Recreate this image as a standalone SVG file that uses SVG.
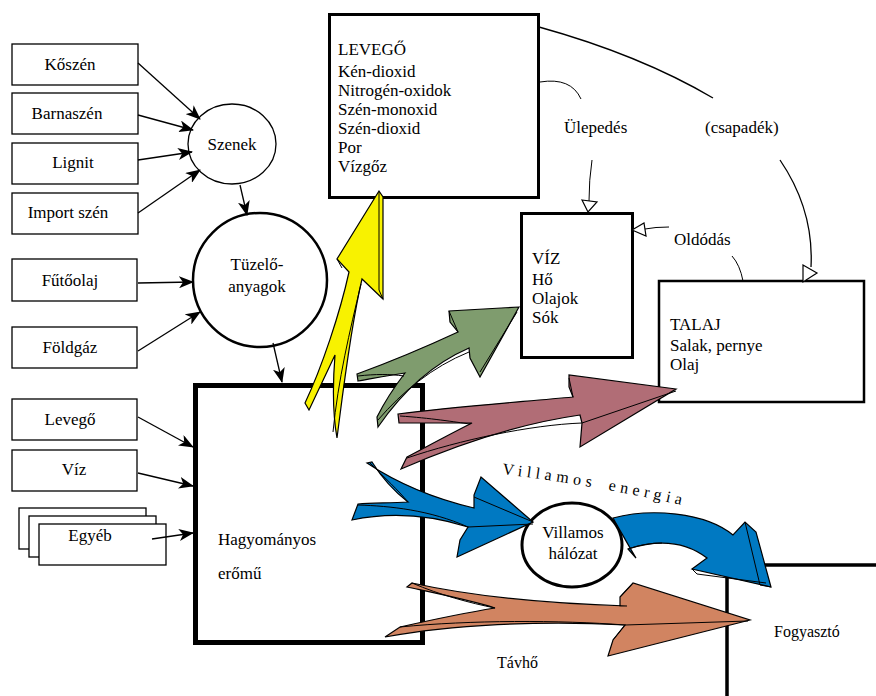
<svg xmlns="http://www.w3.org/2000/svg" width="876" height="696" viewBox="0 0 876 696" font-family="'Liberation Serif', 'Times New Roman', serif">
<style>
.box{fill:#fff;stroke:#000;stroke-width:1.3}
.t{font-family:'Liberation Serif','Times New Roman',serif;font-size:17px;fill:#000}
.c{text-anchor:middle}
.ln{fill:none;stroke:#000;stroke-width:1.3}
.fl{stroke:#000;stroke-width:1.2;stroke-linejoin:miter}
.in{fill:none;stroke:#000;stroke-width:1}
.open{fill:#fff;stroke:#000;stroke-width:1.2}
</style>
<defs>
<marker id="ah" markerUnits="userSpaceOnUse" markerWidth="16" markerHeight="12" refX="14" refY="6" orient="auto">
<path d="M0,0 L15,6 L0,12 L4,6 Z" fill="#000"/>
</marker>
</defs>
<rect width="876" height="696" fill="#fff"/>

<g id="koszen"><rect class="box" x="12" y="44" width="126" height="41"/><text class="t c" x="70" y="70">Kőszén</text></g>
<g id="barnaszen"><rect class="box" x="12" y="93" width="126" height="41"/><text class="t c" x="67" y="119">Barnaszén</text></g>
<g id="lignit"><rect class="box" x="12" y="143" width="126" height="41"/><text class="t c" x="73" y="168">Lignit</text></g>
<g id="import"><rect class="box" x="12" y="193" width="126" height="41"/><text class="t c" x="68" y="218">Import szén</text></g>
<g id="futoolaj"><rect class="box" x="12" y="259" width="125" height="42"/><text class="t c" x="70" y="286">Fűtőolaj</text></g>
<g id="foldgaz"><rect class="box" x="12" y="327" width="125" height="41"/><text class="t c" x="70" y="353">Földgáz</text></g>
<g id="levego-in"><rect class="box" x="12" y="399" width="125" height="41"/><text class="t c" x="70" y="425">Levegő</text></g>
<g id="viz-in"><rect class="box" x="12" y="450" width="125" height="41"/><text class="t c" x="74" y="475">Víz</text></g>
<g id="egyeb"><rect class="box" x="19" y="508" width="127" height="41"/><rect class="box" x="29" y="516" width="127" height="41"/><rect class="box" x="39" y="524" width="127" height="41"/><text class="t c" x="90" y="541">Egyéb</text></g>

<g id="szenek"><ellipse cx="232" cy="144" rx="44" ry="40" fill="#fff" stroke="#000" stroke-width="1.3"/><text class="t c" x="232" y="150">Szenek</text></g>
<g id="tuzeloanyagok"><circle cx="260" cy="280" r="67" fill="#fff" stroke="#000" stroke-width="2.5"/><text class="t c" x="257" y="270">Tüzelő-</text><text class="t c" x="257" y="292">anyagok</text></g>

<g id="eromu"><rect x="195.5" y="385.5" width="227" height="257" fill="#fff" stroke="#000" stroke-width="5"/><text class="t" x="218" y="545">Hagyományos</text><text class="t" x="218" y="579">erőmű</text></g>

<g id="levego"><rect x="329.5" y="14.5" width="209" height="183" fill="#fff" stroke="#000" stroke-width="3"/>
<text class="t" x="338" y="55">LEVEGŐ</text><text class="t" x="338" y="77">Kén-dioxid</text><text class="t" x="338" y="96">Nitrogén-oxidok</text><text class="t" x="338" y="115">Szén-monoxid</text><text class="t" x="338" y="134">Szén-dioxid</text><text class="t" x="338" y="153">Por</text><text class="t" x="338" y="172">Vízgőz</text></g>

<g id="viz"><rect x="521.5" y="213.5" width="111" height="144" fill="#fff" stroke="#000" stroke-width="3"/>
<text class="t" x="532" y="264">VÍZ</text><text class="t" x="532" y="285">Hő</text><text class="t" x="532" y="304">Olajok</text><text class="t" x="532" y="323">Sók</text></g>

<g id="talaj"><rect x="659" y="281" width="205" height="121" fill="#fff" stroke="#000" stroke-width="2.5"/>
<text class="t" x="670" y="330">TALAJ</text><text class="t" x="670" y="351">Salak, pernye</text><text class="t" x="670" y="370">Olaj</text></g>

<g id="fogyaszto"><rect x="727" y="565" width="220" height="200" fill="#fff" stroke="#000" stroke-width="3.5"/><text class="t" x="774" y="637" style="font-size:16px">Fogyasztó</text></g>

<g id="halozat"><ellipse cx="572" cy="545" rx="50" ry="42" fill="#fff" stroke="#000" stroke-width="3"/><text class="t c" x="573" y="538">Villamos</text><text class="t c" x="573" y="559">hálózat</text></g>

<g id="labels">
<text class="t" x="564" y="133">Ülepedés</text>
<text class="t" x="705" y="133">(csapadék)</text>
<text class="t" x="674" y="245">Oldódás</text>
<text class="t" x="497" y="668" style="font-size:16px">Távhő</text>
<path id="vepath" d="M 502,474 Q 600,486 690,507" fill="none"/>
<text class="t" style="font-size:16px" letter-spacing="4.6" word-spacing="4"><textPath href="#vepath">Villamos energia</textPath></text>
</g>

<g id="connectors">
<line class="ln" x1="138" y1="63" x2="200" y2="119" marker-end="url(#ah)"/>
<line class="ln" x1="138" y1="115" x2="193" y2="130" marker-end="url(#ah)"/>
<line class="ln" x1="138" y1="160" x2="192" y2="152" marker-end="url(#ah)"/>
<line class="ln" x1="138" y1="213" x2="200" y2="170" marker-end="url(#ah)"/>
<line class="ln" x1="240" y1="185" x2="247" y2="215" marker-end="url(#ah)"/>
<line class="ln" x1="138" y1="283" x2="193" y2="282" marker-end="url(#ah)"/>
<line class="ln" x1="138" y1="351" x2="200" y2="312" marker-end="url(#ah)"/>
<line class="ln" x1="273" y1="343" x2="282" y2="382" marker-end="url(#ah)"/>
<line class="ln" x1="138" y1="417" x2="193" y2="447" marker-end="url(#ah)"/>
<line class="ln" x1="138" y1="473" x2="193" y2="486" marker-end="url(#ah)"/>
<line class="ln" x1="152" y1="539" x2="193" y2="533" marker-end="url(#ah)"/>

<path class="ln" d="M 539,27 Q 640,55 713,98"/>
<path class="ln" d="M 780,160 Q 814,210 811,267"/>
<polygon class="open" points="803,265 817,273 803,282"/>
<path class="in" d="M 540,82 Q 571,77 581,99"/>
<path class="in" d="M 592,160 Q 589,180 589,201"/>
<polygon class="open" points="582,200 597,202 588,212"/>
<path class="in" d="M 669,227 Q 655,227 645,229"/>
<polygon class="open" points="632,230 644,223 646,236"/>
<path class="in" d="M 732,256 Q 740,265 743,281"/>

<g id="flows">
<path class="fl" fill="#F8F200" d="M 379,191 L 337,259 L 349,272 C 340,313 322,367 305,403 L 309,410 L 335,355 C 333,380 332,410 337,438 C 342,400 350,330 362,279 L 383,299 L 383,197 Z"/>
<path class="in" d="M 379,192 L 379,290 L 383,299 M 337,259 L 342,268 M 361,284 C 350,330 338,380 333,432"/>

<path class="fl" fill="#7F9C6E" d="M 519,307 L 449,311 L 450,322 L 458,332 C 430,345 390,362 357,374 L 358,381 C 375,378 390,375 405,373 C 392,390 383,405 377,417 L 378,427 C 400,395 430,365 469,348 L 470,358 L 480,377 Z"/>
<path class="in" d="M 449,311 L 458,332 M 480,372 L 517,312 M 358,376 C 375,374 390,374 404,376 M 378,420 C 402,392 432,367 469,352"/>

<path class="fl" fill="#B16D76" d="M 676,389 L 569,375 L 569,387 L 573,397 C 520,402 450,407 398,414 L 399,423 L 472,423 C 450,434 428,446 407,457 L 401,469 C 440,452 510,425 580,415 L 582,423 L 580,447 Z"/>
<path class="in" d="M 569,378 L 573,397 M 582,423 L 676,391 M 400,416 C 430,418 455,422 470,424 M 407,458 C 460,440 530,425 582,423"/>

<path class="fl" fill="#0079C2" d="M 533,522 L 481,477 L 474,495 L 474,508 C 440,500 400,485 367,463 L 372,462 C 382,478 395,492 408,502 C 390,503 372,503 358,504 L 352,520 C 390,512 430,515 468,527 L 460,540 L 457,557 Z"/>
<path class="in" d="M 474,497 L 533,522 M 468,527 L 533,524 M 370,463 C 385,478 398,490 408,502 M 358,505 C 390,506 430,510 468,527"/>

<path class="fl" fill="#0079C2" d="M 613,518 C 650,508 705,512 733,535 L 745,522 L 756,532 L 771,587 L 692,569 L 707,558 C 690,545 665,537 628,549 L 636,558 C 628,545 620,530 613,518 Z"/>
<path class="in" d="M 745,522 L 760,585 L 771,587 M 692,569 L 697,574 L 766,583 M 628,549 C 640,545 650,543 662,543"/>

<path class="fl" fill="#D18461" d="M 412,583 C 480,598 560,604 627,606 L 620,606 L 620,597 L 633,583 L 750,620 L 608,656 L 613,640 L 625,625 C 540,620 450,625 385,637 L 400,627 C 440,618 470,612 495,608 C 470,600 430,592 407,587 Z"/>
<path class="in" d="M 620,597 L 633,583 M 625,625 L 748,621 M 613,640 L 625,625 M 412,583 C 440,595 470,603 495,608 M 400,627 C 470,620 560,620 625,625"/>
</g>
</g>
</svg>
